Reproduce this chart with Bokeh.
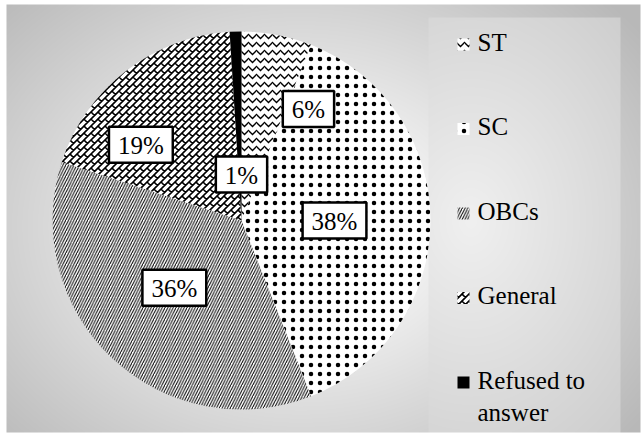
import base64
import textwrap
import numpy as np
from bokeh.plotting import figure
from bokeh.models import ColumnDataSource, Range1d, ImageURLTexture
from bokeh.core.properties import value
from bokeh.embed import file_html
from bokeh.resources import INLINE

# ---- data -------------------------------------------------------------
categories = ["ST", "SC", "OBCs", "General", "Refused to answer"]
shares = [6, 38, 36, 19, 1]          # percent of respondents
pct_labels = [f"{s}%" for s in shares]

# ---- styling ------------------------------------------------------------
patterns = ["horizontal_wave", "dot", "right_diagonal_line", "brick", " "]
fills = ["white", "white", "white", "white", "black"]
hatch_scales = [8, 9, 5.5, 14, 4]
hatch_weights = [1.3, 0.8, 1.0, 1.6, 1]

# label anchors: angle clockwise from 12 o'clock (deg) and distance from centre (px)
label_angle = [31, 90, 225, 307, 0]
label_dist = [130, 93, 95, 126, 46]

W, H = 644, 436
CX, CY, R = 241, H - 220, 189
FONT = value("Liberation Serif")


def brick_tile(s=14, lw=1.6):
    """Diagonal-brick tile as an SVG data URL (periodic in s x s)."""
    segs = []
    for k in range(-2, 7):
        c = k * s / 2
        segs.append((c + 2 * s, -2 * s, c - 2 * s, 2 * s))
    for k in range(-2, 6):
        par = k % 2
        a, b = k * s / 2, (k + 1) * s / 2
        for j in range(-4, 5):
            u = par * s / 2 + j * s
            segs.append(((a + u) / 2, (a - u) / 2, (b + u) / 2, (b - u) / 2))
    d = " ".join(f"M{x0:.2f},{y0:.2f}L{x1:.2f},{y1:.2f}" for x0, y0, x1, y1 in segs)
    svg = (f'<svg xmlns="http://www.w3.org/2000/svg" width="{s}" height="{s}">'
           f'<path d="{d}" stroke="black" stroke-width="{lw}" fill="none"/></svg>')
    return "data:image/svg+xml;base64," + base64.b64encode(svg.encode()).decode()


textures = {"brick": ImageURLTexture(url=brick_tile(), repetition="repeat")}

# ---- figure -------------------------------------------------------------
p = figure(width=W, height=H, x_range=Range1d(0, W), y_range=Range1d(0, H),
           output_backend="svg", toolbar_location=None,
           x_axis_location=None, y_axis_location=None, min_border=0)
p.grid.visible = False
p.outline_line_color = None
p.background_fill_color = "white"
p.border_fill_color = "white"

# soft grey backdrop (radial shading) with a lighter legend panel
bx0, by0, bx1, by1 = 6, 4, 640, 432
gw, gh = bx1 - bx0, by1 - by0
yy, xx = np.mgrid[0:gh, 0:gw].astype(float)
px, py = xx + bx0, yy + by0
d = np.sqrt(((px - 300) / 340) ** 2 + ((py - 225) / 265) ** 2)
g = 246 - 62 * np.clip((d - 0.3) / 0.95, 0, 1)
lx0, ly0, lx1, ly1 = 428, 17, 620, 432
inside = (px >= lx0) & (px < lx1) & (py >= ly0) & (py < ly1)
dl = np.sqrt(((px - 470) / 230) ** 2 + ((py - 220) / 300) ** 2)
gl = 240 - 34 * np.clip(dl / 0.95, 0, 1)
g = np.where(inside, gl, g)
rgba = np.zeros((gh, gw, 4), dtype=np.uint8)
rgba[..., 0] = rgba[..., 1] = rgba[..., 2] = g.astype(np.uint8)
rgba[..., 3] = 255
img = np.flipud(rgba).copy().view(np.uint32).reshape(gh, gw)
p.image_rgba(image=[img], x=bx0, y=H - by1, dw=gw, dh=gh)

# ---- pie --------------------------------------------------------------------
frac = np.array(shares, dtype=float) / sum(shares)
cum = np.concatenate([[0], np.cumsum(frac)])
start = np.pi / 2 - 2 * np.pi * cum[:-1]
end = np.pi / 2 - 2 * np.pi * cum[1:]

src = ColumnDataSource(dict(cat=categories, start=start, end=end, fill=fills,
                            pat=patterns, hs=hatch_scales, hw=hatch_weights))
p.wedge(x=CX, y=CY, radius=R, start_angle="start", end_angle="end",
        direction="clock", source=src, fill_color="fill", line_color=None,
        hatch_pattern="pat", hatch_color="black", hatch_scale="hs",
        hatch_weight="hw", hatch_extra=textures)

# percentage labels in boxed call-outs
ang = np.radians(label_angle)
lx = CX + np.array(label_dist) * np.sin(ang)
ly = CY + np.array(label_dist) * np.cos(ang)
p.text(x=lx, y=ly, text=pct_labels, text_font=FONT, text_font_size="25px",
       text_color="black", text_align="center", text_baseline="middle",
       background_fill_color="white", border_line_color="black",
       border_line_width=2.5, padding=dict(left=9, right=9, top=5, bottom=4))

# ---- legend -------------------------------------------------------------------
row0, step = 44, 84.5
rows = H - (row0 + step * np.arange(len(categories)))
p.rect(x=[463] * len(categories), y=rows, width=12, height=12,
       fill_color=fills, line_color=None, hatch_pattern=patterns,
       hatch_color="black", hatch_scale=hatch_scales, hatch_weight=hatch_weights,
       hatch_extra=textures)
wrapped = ["\n".join(textwrap.wrap(c, 10)) for c in categories]
p.text(x=[477] * len(categories), y=rows + 16, text=wrapped, text_font=FONT,
       text_font_size="25px", text_color="black", text_align="left",
       text_baseline="top", text_line_height=1.2)

open("out.html", "w").write(file_html(p, INLINE))
